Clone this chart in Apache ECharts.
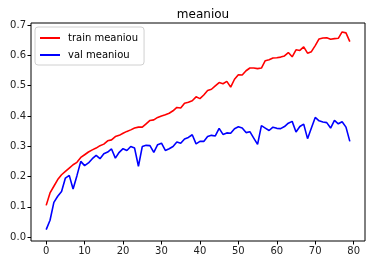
<!DOCTYPE html>
<html>
<head>
<meta charset="utf-8">
<script src="https://cdn.jsdelivr.net/npm/echarts@6/dist/echarts.min.js"></script>
<style>html,body{margin:0;padding:0;background:#fff}#c{width:372px;height:264px}</style>
</head>
<body>
<div id="c"></div>
<script>
const epochs = Array.from({length: 80}, (_, i) => i);
const trainMeaniou = [0.105,0.146,0.168,0.19,0.206,0.217,0.228,0.239,0.247,0.263,
  0.272,0.281,0.288,0.294,0.302,0.307,0.318,0.321,0.332,0.336,
  0.343,0.349,0.354,0.36,0.363,0.363,0.374,0.385,0.387,0.395,
  0.40,0.404,0.409,0.417,0.428,0.426,0.442,0.445,0.45,0.463,
  0.457,0.469,0.484,0.488,0.499,0.51,0.506,0.514,0.495,0.521,
  0.536,0.535,0.549,0.558,0.558,0.556,0.558,0.582,0.585,0.591,
  0.592,0.594,0.598,0.609,0.595,0.618,0.616,0.628,0.607,0.612,
  0.632,0.654,0.657,0.658,0.653,0.655,0.656,0.677,0.674,0.645];
const valMeaniou = [0.025,0.056,0.115,0.135,0.151,0.195,0.204,0.159,0.203,0.25,
  0.236,0.245,0.259,0.27,0.259,0.275,0.281,0.291,0.261,0.28,
  0.292,0.286,0.299,0.294,0.234,0.299,0.303,0.302,0.28,0.305,
  0.31,0.286,0.292,0.299,0.314,0.31,0.324,0.329,0.338,0.308,
  0.316,0.316,0.332,0.336,0.334,0.359,0.339,0.344,0.343,0.358,
  0.364,0.36,0.345,0.348,0.327,0.306,0.368,0.36,0.352,0.363,
  0.359,0.358,0.365,0.376,0.382,0.347,0.365,0.373,0.325,0.36,
  0.395,0.384,0.38,0.378,0.36,0.385,0.374,0.381,0.363,0.316];
const xTicks = [0,10,20,30,40,50,60,70,80];
const yTicks = [0,0.1,0.2,0.3,0.4,0.5,0.6,0.7];

const chart = echarts.init(document.getElementById('c'), null, {renderer: 'canvas'});
const font = 'DejaVu Sans';
chart.setOption({
  animation: false,
  backgroundColor: '#fff',
  title: {
    text: 'meaniou', left: 198, top: 4, textAlign: 'center',
    textStyle: {fontFamily: font, fontSize: 12, fontWeight: 'normal', color: '#000'}
  },
  legend: {
    orient: 'vertical', left: 35, top: 27,
    itemWidth: 20, itemHeight: 2, itemGap: 7,
    padding: [6, 6, 5, 5],
    borderColor: '#d0d0d0', borderWidth: 1, borderRadius: 3,
    backgroundColor: 'rgba(255,255,255,0.8)',
    textStyle: {fontFamily: font, fontSize: 10, color: '#000', padding: [0,0,0,3]},
    data: [{name: 'train meaniou', icon: 'rect'}, {name: 'val meaniou', icon: 'rect'}]
  },
  grid: {left: 31, right: 7, top: 23, bottom: 23, show: true, borderColor: '#000', borderWidth: 1, backgroundColor: 'transparent'},
  xAxis: {
    type: 'value', min: -3.95, max: 82.95,
    axisLine: {show: false, onZero: false},
    splitLine: {show: false},
    axisTick: {show: true, inside: false, length: 3.5, customValues: xTicks, lineStyle: {color: '#000'}},
    axisLabel: {customValues: xTicks, fontFamily: font, fontSize: 10, color: '#222', margin: 5}
  },
  yAxis: {
    type: 'value', min: -0.0125, max: 0.7065,
    axisLine: {show: false, onZero: false},
    splitLine: {show: false},
    axisTick: {show: true, inside: false, length: 3.5, customValues: yTicks, lineStyle: {color: '#000'}},
    axisLabel: {customValues: yTicks, fontFamily: font, fontSize: 10, color: '#222', margin: 5,
      formatter: v => v.toFixed(1)}
  },
  series: [
    {name: 'train meaniou', type: 'line', showSymbol: false, symbol: 'none',
     data: epochs.map((e, i) => [e, trainMeaniou[i]]),
     lineStyle: {color: '#ff0000', width: 1.6}, itemStyle: {color: '#ff0000'}},
    {name: 'val meaniou', type: 'line', showSymbol: false, symbol: 'none',
     data: epochs.map((e, i) => [e, valMeaniou[i]]),
     lineStyle: {color: '#0000ff', width: 1.6}, itemStyle: {color: '#0000ff'}}
  ]
});
</script>
</body>
</html>
